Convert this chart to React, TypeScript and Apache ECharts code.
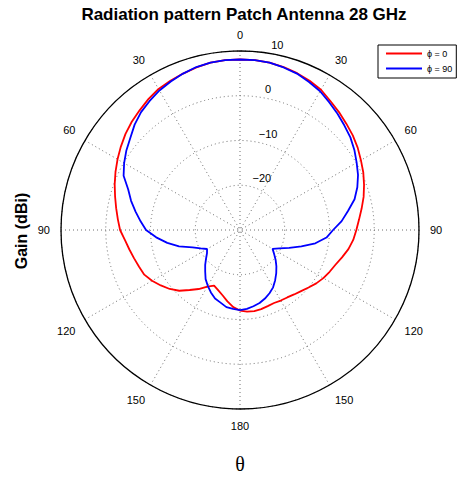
import React, { useEffect, useRef } from 'react';
import * as echarts from 'echarts';

// Angle (degrees, clockwise from top) of every sample
const THETA = [
  0, 5, 10, 15, 20, 25, 30, 35, 40, 45, 50, 55, 60, 65, 70, 75, 80, 85, 90,
  95, 100, 105, 110, 115, 120, 125, 130, 135, 140, 145, 150, 155, 160, 165, 170, 175, 180,
  185, 190, 195, 200, 205, 210, 215, 220, 225, 230, 235, 240, 245, 250, 255, 260, 265, 270,
  275, 280, 285, 290, 295, 300, 305, 310, 315, 320, 325, 330, 335, 340, 345, 350, 355, 360,
];

// Gain (dBi) for phi = 0
const GAIN_PHI0 = [
  8.1, 8.1, 8.0, 7.7, 7.3, 6.8, 6.2, 5.2, 4.4, 3.6, 2.9, 2.1, 1.2, 0.4, -0.5, -1.4, -2.4, -3.3, -4.0,
  -4.6, -5.4, -6.4, -7.3, -7.9, -8.5, -9.2, -10.0, -10.7, -11.2, -11.6, -11.8, -12.0, -11.9, -11.7, -11.6, -11.7, -12.0,
  -12.7, -13.8, -14.9, -15.7, -16.3, -15.4, -13.9, -12.5, -10.8, -9.5, -8.4, -7.3, -6.4, -6.0, -5.5, -4.9, -4.2, -3.2,
  -2.6, -1.9, -1.1, -0.2, 0.7, 1.6, 2.5, 3.4, 4.2, 4.9, 5.7, 6.4, 6.8, 7.2, 7.6, 8.0, 8.1, 8.1,
];

// Gain (dBi) for phi = 90
const GAIN_PHI90 = [
  8.1, 8.1, 8.0, 7.6, 7.2, 6.5, 5.8, 4.8, 3.9, 3.0, 2.2, 1.2, 0.1, -0.9, -2.1, -3.5, -5.5, -7.2, -9.2,
  -10.6, -12.9, -15.8, -18.3, -20.3, -21.6, -20.7, -19.6, -18.5, -17.4, -16.3, -15.2, -14.4, -13.7, -13.1, -12.7, -12.3, -12.1,
  -12.3, -12.5, -13.2, -13.7, -14.6, -15.6, -16.6, -17.9, -19.0, -20.1, -21.0, -21.5, -20.3, -18.7, -15.9, -13.5, -11.2, -9.0,
  -7.7, -6.3, -4.8, -3.4, -1.3, -0.1, 1.0, 2.0, 3.3, 4.4, 5.2, 6.0, 6.6, 7.2, 7.7, 8.0, 8.1, 8.1,
];

const SERIES_NAMES = ['\u03D5 = 0', '\u03D5 = 90'];
const SERIES_COLORS = ['#ff0000', '#0000ff'];
const RADIAL_TICKS = [-20, -10, 0, 10];
const R_MIN = -30;
const R_MAX = 10;
const ANGLE_STEP = 30;

const TITLE = 'Radiation pattern Patch Antenna 28 GHz';
const Y_LABEL = 'Gain (dBi)';
const X_LABEL = '\u03B8';

export default function App() {
  const ref = useRef<HTMLDivElement>(null);

  useEffect(() => {
    document.body.style.margin = '0';
    const chart = echarts.init(ref.current!, null, { renderer: 'svg' });
    const CX = 240;
    const CY = 230;
    const R = 179;
    const pxPerUnit = R / (R_MAX - R_MIN);
    const a = (8 * Math.PI) / 180;
    const font = '"Liberation Sans", Arial, Helvetica, sans-serif';

    const radialLabels = RADIAL_TICKS.map((v) => {
      const rr = (v - R_MIN + 0.5) * pxPerUnit;
      return {
        type: 'text',
        x: CX + rr * Math.sin(a) + 6,
        y: CY - rr * Math.cos(a),
        silent: true,
        style: {
          text: v < 0 ? '\u2212' + Math.abs(v) : String(v),
          fill: '#000',
          fontSize: 11,
          fontFamily: font,
          align: 'left',
          textAlign: 'left',
          verticalAlign: 'bottom',
          textVerticalAlign: 'bottom',
        },
      };
    });

    const dotted = { color: '#6e6e6e', type: [1, 3] as any, width: 1 };

    chart.setOption({
      animation: false,
      backgroundColor: '#fff',
      title: {
        text: TITLE,
        left: 239,
        top: 1,
        textAlign: 'center',
        textStyle: { fontSize: 17, fontWeight: 'bold', fontFamily: font, color: '#000' },
      },
      legend: {
        data: SERIES_NAMES,
        orient: 'vertical',
        left: 378,
        top: 45,
        icon: 'rect',
        itemWidth: 36,
        itemHeight: 2,
        itemGap: 6,
        padding: [4, 4, 5, 8],
        borderColor: '#000',
        borderWidth: 1,
        borderRadius: 0,
        backgroundColor: '#fff',
        textStyle: { fontSize: 9, fontFamily: font, color: '#000' },
      },
      polar: { center: [CX, CY], radius: R },
      angleAxis: {
        type: 'value',
        min: 0,
        max: 360,
        interval: ANGLE_STEP,
        startAngle: 90,
        clockwise: true,
        axisLine: { show: true, lineStyle: { color: '#000', width: 1.3 } },
        axisTick: { show: false },
        axisLabel: {
          margin: 11,
          color: '#000',
          fontSize: 11,
          fontFamily: font,
          formatter: (v: number) => (v >= 360 ? '' : String(v > 180 ? 360 - v : v)),
        },
        splitLine: { show: true, lineStyle: dotted },
      },
      radiusAxis: {
        type: 'value',
        min: R_MIN,
        max: R_MAX,
        interval: 10,
        axisLine: { show: false },
        axisTick: { show: false },
        axisLabel: { show: false },
        splitLine: { show: true, lineStyle: dotted },
      },
      series: [GAIN_PHI0, GAIN_PHI90].map((g, k) => ({
        name: SERIES_NAMES[k],
        type: 'line',
        coordinateSystem: 'polar',
        showSymbol: false,
        symbol: 'none',
        smooth: false,
        color: SERIES_COLORS[k],
        lineStyle: { color: SERIES_COLORS[k], width: 1.8 },
        data: THETA.map((t, i) => [g[i], t]),
      })),
      graphic: [
        ...radialLabels,
        {
          type: 'text',
          x: 21,
          y: 231,
          rotation: Math.PI / 2,
          silent: true,
          style: {
            text: Y_LABEL,
            fill: '#000',
            fontSize: 16,
            fontWeight: 'bold',
            fontFamily: font,
            align: 'center',
            textAlign: 'center',
            verticalAlign: 'middle',
            textVerticalAlign: 'middle',
          },
        },
        {
          type: 'text',
          x: 240,
          y: 464,
          silent: true,
          style: {
            text: X_LABEL,
            fill: '#000',
            fontSize: 20,
            fontFamily: '"Liberation Serif", "Times New Roman", serif',
            align: 'center',
            textAlign: 'center',
            verticalAlign: 'middle',
            textVerticalAlign: 'middle',
          },
        },
      ],
    });

    return () => chart.dispose();
  }, []);

  return <div ref={ref} style={{ width: 464, height: 477 }} />;
}
